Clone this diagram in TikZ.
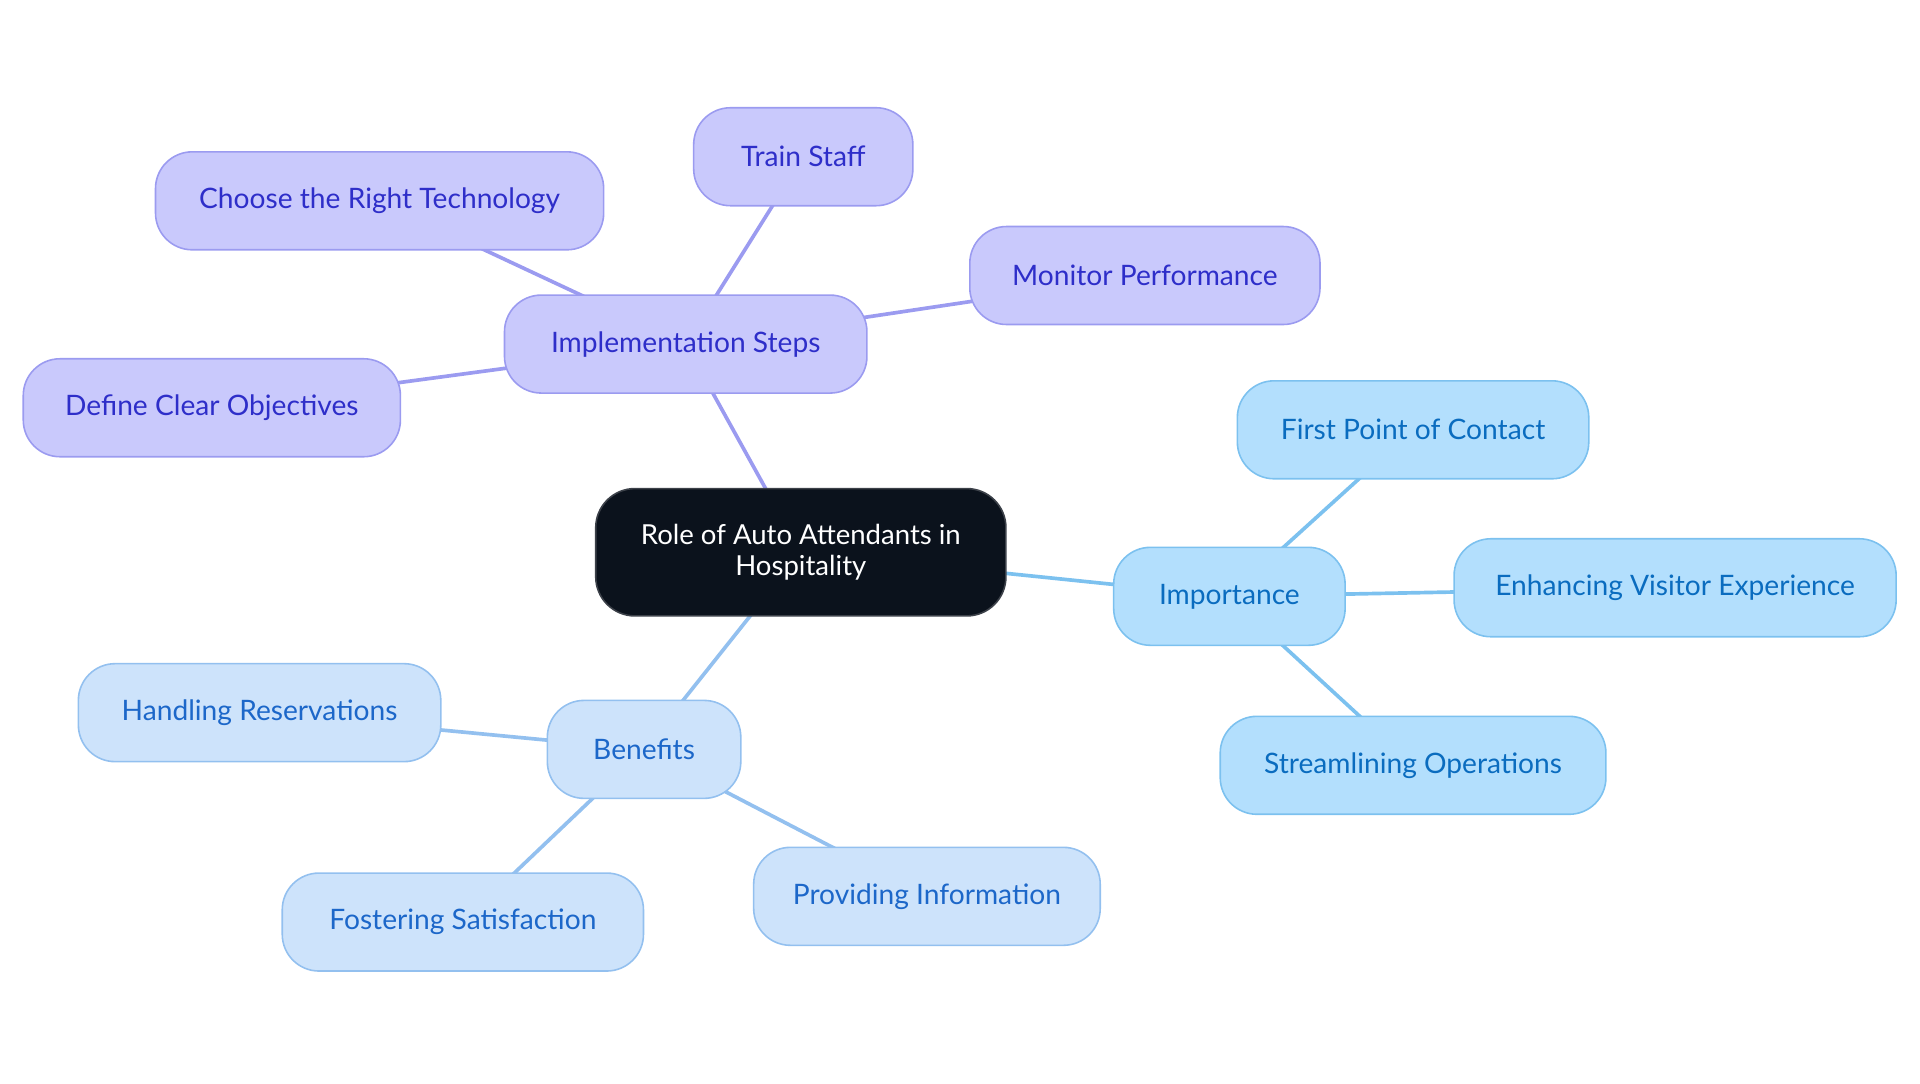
\documentclass[tikz,border=0pt]{standalone}
\usepackage{fontspec}
\setmainfont{Lato}
\usetikzlibrary{backgrounds}
\definecolor{cdark}{HTML}{0B121C}
\definecolor{pfill}{HTML}{C9C9FC}
\definecolor{pline}{HTML}{9B9BF0}
\definecolor{ptext}{HTML}{2E2EC9}
\definecolor{ifill}{HTML}{B3DFFD}
\definecolor{iline}{HTML}{7CC1EF}
\definecolor{itext}{HTML}{0A6CBF}
\definecolor{bfill}{HTML}{CDE3FB}
\definecolor{bline}{HTML}{93C0EF}
\definecolor{btext}{HTML}{1C67C9}
\tikzset{
  x=1pt,y=-1pt,
  box/.style={rounded corners=30pt, minimum height=80pt, inner sep=0pt, line width=1.3pt, font=\fontsize{23}{25}\selectfont},
  pbox/.style={box, fill=pfill, draw=pline, text=ptext},
  ibox/.style={box, fill=ifill, draw=iline, text=itext},
  bbox/.style={box, fill=bfill, draw=bline, text=btext},
  rootbox/.style={rounded corners=32pt, minimum height=104pt, minimum width=335pt, inner sep=0pt, fill=cdark, draw=cdark!80!white, line width=1.3pt, text=white, align=center, font=\fontsize{22.5}{25}\selectfont},
  pedge/.style={draw=pline, line width=3pt},
  iedge/.style={draw=iline, line width=3pt},
  bedge/.style={draw=bline, line width=3pt},
}
\begin{document}
\begin{tikzpicture}
\useasboundingbox (0,0) rectangle (1568,885);
\node[rootbox] (root) at (654,451) {Role of Auto Attendants in\\Hospitality};
\node[pbox, minimum width=296pt] (impl) at (560,281) {Implementation Steps};
\node[pbox, minimum width=366pt] (tech) at (310,164) {Choose the Right Technology};
\node[pbox, minimum width=179pt] (train) at (656,128) {Train Staff};
\node[pbox, minimum width=286pt] (mon) at (935,225) {Monitor Performance};
\node[pbox, minimum width=308pt] (def) at (173,333) {Define Clear Objectives};
\node[ibox, minimum width=189pt] (imp) at (1004,487) {Importance};
\node[ibox, minimum width=287pt] (first) at (1154,351) {First Point of Contact};
\node[ibox, minimum width=361pt] (enh) at (1368,480) {Enhancing Visitor Experience};
\node[ibox, minimum width=315pt] (stream) at (1154,625) {Streamlining Operations};
\node[bbox, minimum width=158pt] (ben) at (526,612) {Benefits};
\node[bbox, minimum width=296pt] (hand) at (212,582) {Handling Reservations};
\node[bbox, minimum width=283pt] (prov) at (757,732) {Providing Information};
\node[bbox, minimum width=295pt] (fost) at (378,753) {Fostering Satisfaction};
\begin{pgfonlayer}{background}
\draw[pedge] (root.center) -- (impl.center);
\draw[pedge] (impl.center) -- (tech.center);
\draw[pedge] (impl.center) -- (train.center);
\draw[pedge] (impl.center) -- (mon.center);
\draw[pedge] (impl.center) -- (def.center);
\draw[iedge] (root.center) -- (imp.center);
\draw[iedge] (imp.center) -- (first.center);
\draw[iedge] (imp.center) -- (enh.center);
\draw[iedge] (imp.center) -- (stream.center);
\draw[bedge] (root.center) -- (ben.center);
\draw[bedge] (ben.center) -- (hand.center);
\draw[bedge] (ben.center) -- (prov.center);
\draw[bedge] (ben.center) -- (fost.center);
\end{pgfonlayer}
\end{tikzpicture}
\end{document}
